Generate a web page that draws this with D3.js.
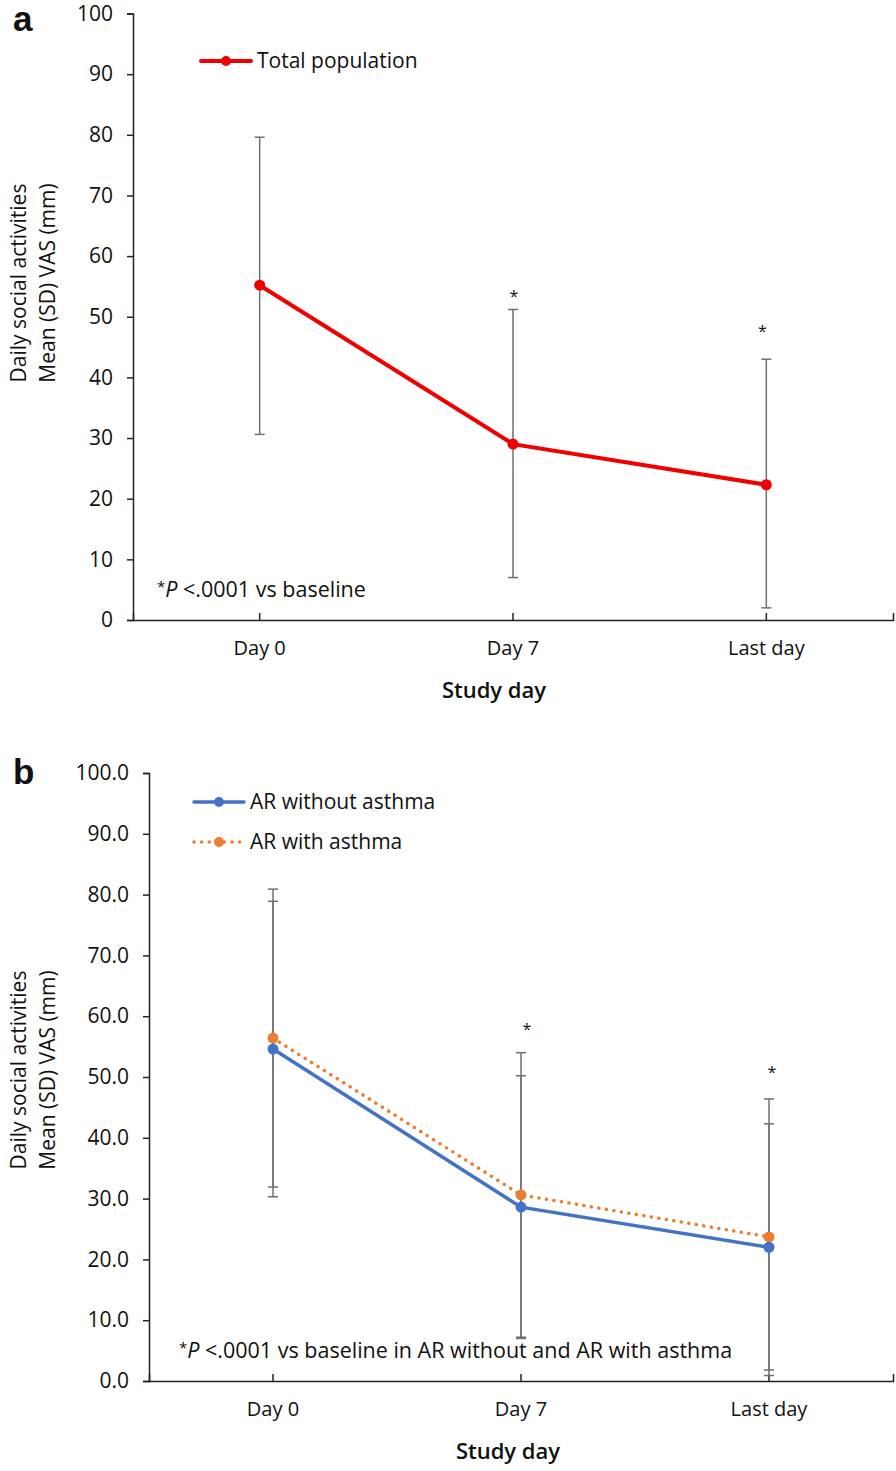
<!DOCTYPE html>
<html>
<head>
<meta charset="utf-8">
<script src="https://cdn.jsdelivr.net/npm/d3@7"></script>
<style>
  body { margin: 0; background: #fff; }
  svg text { font-family: "Open Sans", sans-serif; fill: #111; }
</style>
</head>
<body>
<svg id="chart" width="896" height="1471"></svg>
<script>
// study days (shared by both panels)
const days = ["Day 0", "Day 7", "Last day"]

// panel a: total population
const totalMean = [55.2, 29.0, 22.3]
const totalUpper = [79.6, 51.2, 43.0]
const totalLower = [30.6, 7.0, 2.0]
const totalStar = [null, 53.9, 48.1]   // where the * sits (value units), null = no star
const yTicksA = [0, 10, 20, 30, 40, 50, 60, 70, 80, 90, 100]

// panel b: AR without / with asthma
const noAsthmaMean = [54.6, 28.6, 22.0]
const noAsthmaUpper = [78.9, 50.2, 42.3]
const noAsthmaLower = [30.3, 7.0, 1.8]
const asthmaMean = [56.4, 30.6, 23.7]
const asthmaUpper = [80.9, 54.0, 46.4]
const asthmaLower = [31.9, 7.2, 0.9]
const groupStar = [null, 58.4, 51.3]
const yTicksB = [0, 10, 20, 30, 40, 50, 60, 70, 80, 90, 100]

const svg = d3.select("#chart")

function drawPanel(p) {
  const x = d3.scaleBand().domain(days).range([p.left, p.right])
  const y = d3.scaleLinear().domain([0, 100]).range([p.bottom, p.top])
  const cx = d => x(d) + x.bandwidth() / 2

  const g = svg.append("g")

  // panel letter
  g.append("text")
    .attr("x", 13).attr("y", p.letterY)
    .style("font-family", "Liberation Sans, Arial, sans-serif")
    .style("font-weight", "bold").style("font-size", "35px")
    .text(p.letter)

  // y axis
  g.append("g")
    .attr("transform", `translate(${p.left},0)`)
    .call(d3.axisLeft(y).tickValues(p.yTicks).tickFormat(p.fmt).tickSizeOuter(0).tickSize(6).tickPadding(14))
    .call(a => a.selectAll("path,line").attr("stroke", "#222").attr("stroke-width", 1.5))
    .call(a => a.selectAll("text").style("font-size", "21px").attr("fill", "#111"))

  // x axis, ticks pointing inward
  g.append("g")
    .attr("transform", `translate(0,${p.bottom})`)
    .call(d3.axisBottom(x).tickSizeInner(-7).tickSizeOuter(-7).tickPadding(21))
    .call(a => a.selectAll("path,line").attr("stroke", "#222").attr("stroke-width", 1.5))
    .call(a => a.selectAll("text").style("font-size", "20px").attr("fill", "#111"))

  // axis titles
  g.append("text")
    .attr("x", (p.left + p.right) / 2 + p.titleShift).attr("y", p.bottom + 78)
    .attr("text-anchor", "middle")
    .style("font-size", "22px").style("font-weight", 600)
    .text("Study day")
  const yt = g.append("text")
    .attr("transform", `translate(26,${p.yTitleY}) rotate(-90)`)
    .attr("text-anchor", "middle")
    .style("font-size", "21px")
  yt.append("tspan").attr("x", 0).attr("dy", 0).text("Daily social activities")
  yt.append("tspan").attr("x", 0).attr("dy", 29).text("Mean (SD) VAS (mm)")

  // error bars
  p.series.forEach(s => {
    const eb = g.append("g").attr("stroke", "#707070").attr("stroke-width", 1.5)
    days.forEach((d, i) => {
      const xc = cx(d)
      eb.append("line").attr("x1", xc).attr("x2", xc).attr("y1", y(s.lower[i])).attr("y2", y(s.upper[i]))
      ;[s.lower[i], s.upper[i]].forEach(v => {
        eb.append("line").attr("x1", xc - 5).attr("x2", xc + 5).attr("y1", y(v)).attr("y2", y(v))
      })
    })
  })

  // lines and markers
  const line = d3.line().x((v, i) => cx(days[i])).y(v => y(v))
  p.series.slice().reverse().forEach(s => {
    g.append("path")
      .datum(s.mean)
      .attr("d", line)
      .attr("fill", "none")
      .attr("stroke", s.color)
      .attr("stroke-width", s.width)
      .attr("stroke-linecap", "round")
      .attr("stroke-dasharray", s.dash)
    g.selectAll(null).data(s.mean).enter().append("circle")
      .attr("cx", (v, i) => cx(days[i]))
      .attr("cy", v => y(v))
      .attr("r", 5.5)
      .attr("fill", s.color)
  })

  // significance stars
  days.forEach((d, i) => {
    if (p.star[i] == null) return
    g.append("text")
      .attr("x", cx(d) + p.starShift[i]).attr("y", y(p.star[i]) + 9)
      .attr("text-anchor", "middle")
      .style("font-size", "16px")
      .text("*")
  })

  // legend
  p.series.forEach((s, k) => {
    const ly = p.legendY + k * 40
    g.append("line")
      .attr("x1", p.legendX).attr("x2", p.legendX + 50)
      .attr("y1", ly).attr("y2", ly)
      .attr("stroke", s.color).attr("stroke-width", s.width)
      .attr("stroke-linecap", "round")
      .attr("stroke-dasharray", s.dash)
    g.append("circle").attr("cx", p.legendX + 25).attr("cy", ly).attr("r", 5).attr("fill", s.color)
    g.append("text")
      .attr("x", p.legendX + 56).attr("y", ly).attr("dy", "0.35em")
      .style("font-size", "21px")
      .text(s.name)
  })

  // footnote
  const fn = g.append("text")
    .attr("x", p.noteX).attr("y", p.bottom - 23)
    .style("font-size", "21.5px")
  fn.append("tspan").attr("dy", -5).style("font-size", "15px").text("*")
  fn.append("tspan").attr("dy", 5).style("font-style", "italic").text("P")
  fn.append("tspan").text(p.note)
}

drawPanel({
  letter: "a", letterY: 31, left: 133, right: 893, top: 13.5, bottom: 620,
  yTicks: yTicksA, fmt: d3.format("d"), titleShift: -19, yTitleY: 283,
  star: totalStar, starShift: [0, 1, -4],
  legendX: 201, legendY: 61,
  noteX: 157, note: " <.0001 vs baseline",
  series: [
    { name: "Total population", mean: totalMean, upper: totalUpper, lower: totalLower,
      color: "#f20000", width: 4, dash: null }
  ]
})

drawPanel({
  letter: "b", letterY: 784, left: 149, right: 893, top: 773, bottom: 1381,
  yTicks: yTicksB, fmt: d3.format(".1f"), titleShift: -13, yTitleY: 1070,
  star: groupStar, starShift: [0, 6, 3],
  legendX: 194, legendY: 802,
  noteX: 179, note: " <.0001 vs baseline in AR without  and AR with asthma",
  series: [
    { name: "AR without asthma", mean: noAsthmaMean, upper: noAsthmaUpper, lower: noAsthmaLower,
      color: "#4472c4", width: 3.5, dash: null },
    { name: "AR with asthma", mean: asthmaMean, upper: asthmaUpper, lower: asthmaLower,
      color: "#ed7d31", width: 3.5, dash: "0.1 7.5" }
  ]
})
</script>
</body>
</html>
